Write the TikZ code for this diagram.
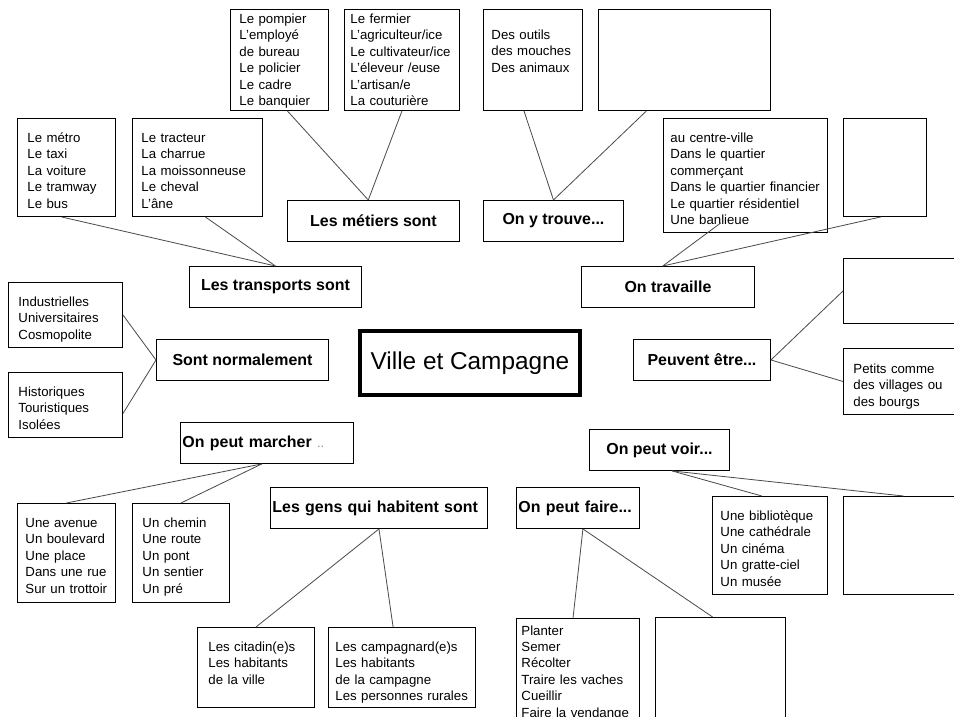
\documentclass[tikz,border=0pt]{standalone}
\usepackage{fontspec}
\setmainfont{Liberation Sans}
\usetikzlibrary{calc}

\newcommand{\petit}{\fontsize{11.3}{14}\selectfont}
\newcommand{\gras}{\fontsize{13.6}{16}\selectfont\bfseries}

\tikzset{
  liste/.style={draw, line width=.8pt, anchor=north west, align=left, inner ysep=0pt, inner xsep=.3cm, text height=.72cm, font=\petit},
  vide/.style={draw, line width=.8pt, anchor=north west, inner sep=0pt},
  theme/.style={draw, line width=.8pt, anchor=north west, inner sep=0pt, minimum height=1.23cm, font=\gras},
  gauche/.style={align=left, inner xsep=.06cm},
  lien/.style={draw=black!70, line width=.7pt}
}

\begin{document}
\begin{tikzpicture}[x=0.03cm, y=-0.03cm]
	\useasboundingbox (0,0) rectangle (954,716);
	\clip (0,0) rectangle (954,716);

	% le titre
	\node[draw, line width=3.4pt, minimum width=6.6cm, minimum height=1.92cm, font=\fontsize{20.8}{24}\selectfont] (ville) at (470,363) {Ville et Campagne};

	% les themes
	\node[theme, minimum width=5.16cm] (metiers) at (287,200) {Les métiers sont};
	\node[theme, minimum width=5.16cm] (transports) at (189,266) {Les transports sont};
	\node[theme, minimum width=4.2cm] (trouve) at (483,200) {On y trouve...};
	\node[theme, minimum width=5.19cm] (travaille) at (581,266) {On travaille};
	\node[theme, minimum width=5.16cm] (normalement) at (156,339) {Sont normalement};
	\node[theme, minimum width=4.11cm] (peuvent) at (633,339) {Peuvent être...};
	\node[theme, gauche, text width=5.07cm] (marcher) at (180,422) {On peut marcher {\mdseries\petit\color{black!40}..}};
	\node[theme, gauche, text width=6.39cm] (gens) at (270,487) {Les gens qui habitent sont};
	\node[theme, gauche, text width=3.57cm] (faire) at (516,487) {On peut faire...};
	\node[theme, minimum width=4.2cm] (voir) at (589,429) {On peut voir...};

	% les listes
	\node[liste, inner xsep=.27cm, text width=2.4cm, text height=.42cm, text depth=2.61cm] (pompier) at (230,9)
		{Le pompier\\L'employé\\de bureau\\Le policier\\Le cadre\\Le banquier};
	\node[liste, inner xsep=.18cm, text width=3.09cm, text height=.42cm, text depth=2.61cm] (fermier) at (344,9)
		{Le fermier\\L'agriculteur/ice\\Le cultivateur/ice\\L'éleveur /euse\\L'artisan/e\\La couturière};
	\node[liste, text width=2.34cm, text depth=2.22cm] (metro) at (17,118)
		{Le métro\\Le taxi\\La voiture\\Le tramway\\Le bus};
	\node[liste, inner xsep=.27cm, text width=3.36cm, text depth=2.22cm] (tracteur) at (132,118)
		{Le tracteur\\La charrue\\La moissonneuse\\Le cheval\\L'âne};
	\node[liste, inner xsep=.24cm, text width=2.49cm, text height=.9cm, text depth=2.13cm] (outils) at (483,9)
		{Des outils\\des mouches\\Des animaux};
	\node[vide, minimum width=5.16cm, minimum height=3.03cm] (vide1) at (598,9) {};
	\node[liste, inner xsep=.21cm, text width=4.5cm, text depth=2.7cm] (centreville) at (663,118)
		{au centre-ville\\Dans le quartier\\commerçant\\Dans le quartier financier\\Le quartier résidentiel\\Une banlieue};
	\node[vide, minimum width=2.49cm, minimum height=2.94cm] (vide2) at (843,118) {};
	\node[liste, text width=2.82cm, text depth=1.23cm] (industrie) at (8,282)
		{Industrielles\\Universitaires\\Cosmopolite};
	\node[liste, text width=2.82cm, text depth=1.23cm] (historique) at (8,372)
		{Historiques\\Touristiques\\Isolées};
	\node[vide, minimum width=3.6cm, minimum height=1.95cm] (vide3) at (843,258) {};
	\node[liste, text width=3cm, text height=.75cm, text depth=1.23cm] (petits) at (843,348)
		{Petits comme\\des villages ou\\des bourgs};
	\node[liste, inner xsep=.24cm, text width=2.46cm, text depth=2.25cm] (avenue) at (17,503)
		{Une avenue\\Un boulevard\\Une place\\Dans une rue\\Sur un trottoir};
	\node[liste, text width=2.31cm, text depth=2.25cm] (chemin) at (132,503)
		{Un chemin\\Une route\\Un pont\\Un sentier\\Un pré};
	\node[liste, inner xsep=.33cm, text width=2.85cm, text depth=1.68cm] (citadin) at (197,627)
		{Les citadin(e)s\\Les habitants\\de la ville};
	\node[liste, inner xsep=.21cm, text width=3.99cm, text depth=1.68cm] (campagnard) at (328,627)
		{Les campagnard(e)s\\Les habitants\\de la campagne\\Les personnes rurales};
	\node[liste, inner xsep=.15cm, text width=3.39cm, text height=.5cm, text depth=3.15cm] (planter) at (516,618)
		{Planter\\Semer\\Récolter\\Traire les vaches\\Cueillir\\Faire la vendange};
	\node[vide, minimum width=3.9cm, minimum height=3.9cm] (vide4) at (655,617) {};
	\node[liste, inner xsep=.24cm, text width=2.97cm, text depth=2.22cm] (biblio) at (712,496)
		{Une bibliotèque\\Une cathédrale\\Un cinéma\\Un gratte-ciel\\Un musée};
	\node[vide, minimum width=3.6cm, minimum height=2.94cm] (vide5) at (843,496) {};

	% les liens
	\coordinate (m) at ($(metiers.north west)!.47!(metiers.north east)$);
	\draw[lien] ($(pompier.south west)!.58!(pompier.south east)$) -- (m);
	\draw[lien] (fermier.south) -- (m);

	\draw[lien] ($(metro.south west)!.45!(metro.south east)$) -- (transports.north);
	\draw[lien] ($(tracteur.south west)!.56!(tracteur.south east)$) -- (transports.north);

	\draw[lien] ($(outils.south west)!.41!(outils.south east)$) -- (trouve.north);
	\draw[lien] ($(vide1.south west)!.28!(vide1.south east)$) -- (trouve.north);

	\coordinate (t) at ($(travaille.north west)!.47!(travaille.north east)$);
	\draw[lien] (t) -- ($(centreville.south west)!.35!(centreville.south east) + (0,-10)$);
	\draw[lien] (t) -- ($(vide2.south west)!.45!(vide2.south east)$);

	\draw[lien] (industrie.east) -- (normalement.west);
	\draw[lien] ($(historique.north east)!.63!(historique.south east)$) -- (normalement.west);

	\draw[lien] (peuvent.east) -- (vide3.west);
	\draw[lien] (peuvent.east) -- (petits.west);

	\coordinate (w) at ($(marcher.south west)!.47!(marcher.south east)$);
	\draw[lien] (w) -- (avenue.north);
	\draw[lien] (w) -- (chemin.north);

	\draw[lien] (gens.south) -- (citadin.north);
	\draw[lien] (gens.south) -- ($(campagnard.north west)!.44!(campagnard.north east)$);

	\coordinate (f) at ($(faire.south west)!.54!(faire.south east)$);
	\draw[lien] (f) -- ($(planter.north west)!.46!(planter.north east)$);
	\draw[lien] (f) -- ($(vide4.north west)!.44!(vide4.north east)$);

	\coordinate (v) at ($(voir.south west)!.59!(voir.south east)$);
	\draw[lien] (v) -- ($(biblio.north west)!.43!(biblio.north east)$);
	\draw[lien] (v) -- (vide5.north);

\end{tikzpicture}
\end{document}
